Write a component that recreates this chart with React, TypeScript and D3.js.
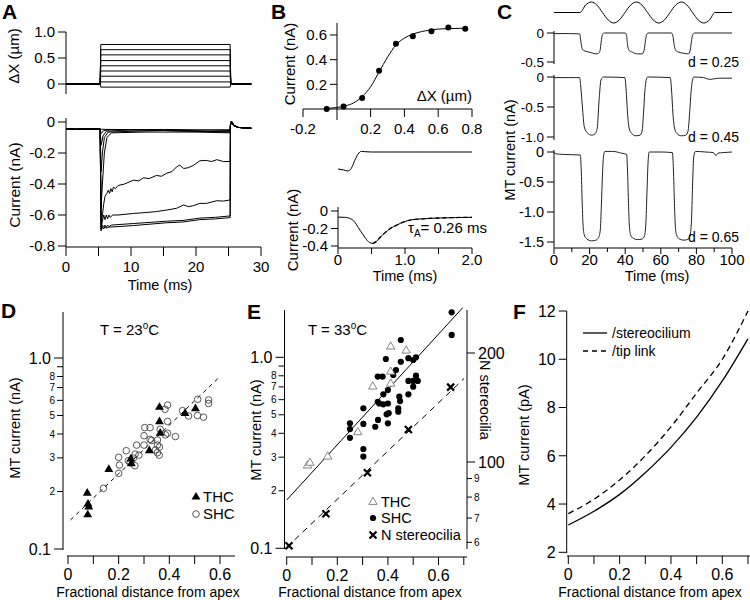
import React from 'react';
import * as d3 from 'd3';

const FONT = "'Liberation Sans', Arial, Helvetica, sans-serif";
type P = [number, number];

// ---------------- Panel A ----------------
const aStepLevels = [-0.06, 0.04, 0.15, 0.25, 0.35, 0.45, 0.56, 0.66, 0.76];
const aStepTimes = [0, 5.25, 5.35, 25.25, 25.35, 28.5];
const aTopYTicks = [0, 0.5, 1.0];
const aTopYLabels = ['0', '0.5', '1.0'];
const aYTicks = [0, -0.2, -0.4, -0.6, -0.8];
const aYLabels = ['0', '-0.2', '-0.4', '-0.6', '-0.8'];
const aXTicks = [0, 10, 20, 30];
const aXLabels = ['0', '10', '20', '30'];
const aXMinor = [5, 15, 25];
const aPre: P[] = [[0, -0.043], [1.5, -0.047], [3, -0.044], [4.5, -0.046], [5.25, -0.045]];
const aPost: P[] = [[25.3, -0.02], [25.45, 0.005], [25.8, -0.022], [26.5, -0.035], [27.5, -0.038], [28.5, -0.04]];
const aTr1: P[] = [[5.4, -0.047], [10, -0.05], [15, -0.048], [20, -0.05], [25.25, -0.05]];
const aTr2: P[] = [[5.4, -0.075], [5.8, -0.055], [7, -0.05], [12, -0.052], [18, -0.055], [22, -0.058], [25.25, -0.055]];
const aTr3: P[] = [[5.4, -0.15], [5.7, -0.09], [6.2, -0.06], [10, -0.05], [15, -0.055], [20, -0.06], [25.25, -0.06]];
const aTr4: P[] = [[5.4, -0.32], [5.6, -0.2], [5.9, -0.1], [6.5, -0.065], [10, -0.06], [15, -0.055], [20, -0.06], [25.25, -0.065]];
const aTr5: P[] = [[5.4, -0.55], [5.6, -0.4], [5.9, -0.2], [6.3, -0.1], [7, -0.07], [12, -0.065], [20, -0.065], [25.25, -0.07]];
const aTr6: P[] = [[5.4, -0.66], [5.6, -0.6], [5.8, -0.53], [6.0, -0.48], [6.3, -0.46], [6.5, -0.44], [6.7, -0.46], [6.9, -0.43], [7.1, -0.45], [7.3, -0.42], [7.6, -0.43], [8, -0.41], [9, -0.4], [10.4, -0.375], [11.2, -0.38], [11.9, -0.36], [12.8, -0.365], [13.9, -0.345], [14.7, -0.35], [15.5, -0.33], [16.3, -0.32], [17, -0.29], [17.5, -0.278], [18.1, -0.3], [18.8, -0.295], [19.6, -0.28], [20.6, -0.25], [21.6, -0.248], [22.4, -0.255], [23.2, -0.243], [24.2, -0.255], [25.25, -0.255]];
const aTr7: P[] = [[5.4, -0.69], [5.6, -0.64], [5.8, -0.6], [6.0, -0.63], [6.2, -0.6], [6.4, -0.625], [6.6, -0.6], [6.8, -0.615], [7.2, -0.6], [8, -0.6], [10.4, -0.59], [12, -0.585], [13.9, -0.578], [15.5, -0.568], [17, -0.557], [18.1, -0.535], [18.8, -0.546], [19.6, -0.54], [20.6, -0.525], [21.6, -0.525], [23.2, -0.508], [24.2, -0.51], [25.25, -0.503]];
const aTr8: P[] = [[5.4, -0.7], [5.6, -0.665], [5.8, -0.68], [6, -0.665], [6.2, -0.68], [6.4, -0.665], [6.6, -0.675], [7, -0.665], [10.4, -0.655], [15.5, -0.64], [18, -0.635], [20.6, -0.62], [23, -0.615], [25.25, -0.606]];
const aTr9: P[] = [[5.4, -0.7], [5.6, -0.68], [5.8, -0.69], [6, -0.675], [6.2, -0.685], [6.6, -0.678], [8, -0.675], [10.4, -0.668], [15.5, -0.65], [18, -0.645], [20.6, -0.63], [23, -0.625], [25.25, -0.617]];
const aTraces = [aTr1, aTr2, aTr3, aTr4, aTr5, aTr6, aTr7, aTr8, aTr9];

// ---------------- Panel B ----------------
const bPointsX = [-0.06, 0.04, 0.15, 0.25, 0.35, 0.45, 0.56, 0.66, 0.76];
const bPointsY = [0.0, 0.02, 0.09, 0.31, 0.53, 0.59, 0.63, 0.66, 0.65];
const bFitX = [-0.06, 0, 0.05, 0.1, 0.15, 0.2, 0.25, 0.3, 0.35, 0.4, 0.45, 0.5, 0.55, 0.6, 0.7, 0.76];
const bFitY = [0.005, 0.012, 0.025, 0.05, 0.1, 0.18, 0.3, 0.42, 0.52, 0.575, 0.607, 0.627, 0.64, 0.648, 0.653, 0.655];
const bTopXTicks = [-0.2, 0.2, 0.4, 0.6, 0.8];
const bTopXLabels = ['-0.2', '0.2', '0.4', '0.6', '0.8'];
const bTopYTicks = [0.2, 0.4, 0.6];
const bTopYLabels = ['0.2', '0.4', '0.6'];
const bStimT = [0, 0.08, 0.15, 0.2, 0.25, 0.3, 0.35, 0.4, 0.5, 2.0];
const bStimV = [0, -0.05, -0.12, 0.05, 0.5, 0.88, 1.04, 1.02, 1.0, 1.0];
const bCurT = [0, 0.1, 0.15, 0.23, 0.33, 0.41, 0.47, 0.52, 0.57, 0.63, 0.7, 0.78, 0.88, 0.98, 1.1, 1.25, 1.5, 1.75, 2.0];
const bCurV = [-0.07, -0.072, -0.078, -0.11, -0.22, -0.31, -0.36, -0.37, -0.35, -0.3, -0.25, -0.2, -0.16, -0.125, -0.1, -0.09, -0.08, -0.075, -0.072];
const bBotXTicks = [0, 1, 2];
const bBotXLabels = ['0', '1.0', '2.0'];
const bBotXMinor = [0.5, 1.5];
const bBotYTicks = [0, -0.2, -0.4];
const bBotYLabels = ['0', '-0.2', '-0.4'];

// ---------------- Panel C ----------------
const cStimT = [0, 14.6, 17.76, 20.93, 24.09, 27.25, 30.41, 33.58, 36.74, 39.9, 43.06, 46.23, 49.39, 52.55, 55.71, 58.88, 62.04, 65.2, 68.36, 71.53, 74.69, 77.85, 81.01, 84.18, 87.34, 90.5, 100];
const cStimV = [0, 0, 0.71, 1, 0.71, 0, -0.71, -1, -0.71, 0, 0.71, 1, 0.71, 0, -0.71, -1, -0.71, 0, 0.71, 1, 0.71, 0, -0.71, -1, -0.71, 0, 0];
const cTr1: P[] = [[0, -0.01], [8, -0.01], [14.4, -0.015], [15, -0.12], [15.7, -0.26], [16.6, -0.3], [18.5, -0.32], [21, -0.34], [23.5, -0.36], [25, -0.35], [25.9, -0.3], [26.5, -0.15], [27.2, -0.03], [28.2, 0], [40, 0], [40.7, -0.03], [41.3, -0.2], [42.2, -0.3], [44, -0.33], [47, -0.36], [49.5, -0.36], [50.6, -0.3], [51.3, -0.15], [52, -0.03], [53, 0], [66, 0], [66.8, -0.05], [67.5, -0.2], [68.4, -0.3], [70, -0.33], [73, -0.35], [75.5, -0.36], [76.5, -0.3], [77.2, -0.15], [77.9, -0.03], [79, 0], [100, 0]];
const cTr2: P[] = [[0, -0.01], [8, -0.01], [14.4, -0.01], [15, -0.15], [16.1, -0.55], [17, -0.83], [18.7, -0.93], [21.2, -0.97], [23, -0.95], [24.3, -0.85], [25.3, -0.4], [26.4, -0.05], [27.7, 0], [39.8, -0.01], [40.5, -0.2], [41.3, -0.6], [42.2, -0.85], [43.6, -0.94], [46, -0.98], [48.3, -0.97], [49.5, -0.9], [50.3, -0.6], [51, -0.25], [51.8, -0.05], [52.6, 0], [65.3, -0.01], [66, -0.2], [66.8, -0.6], [67.7, -0.85], [69, -0.94], [71.5, -0.98], [74, -0.97], [75.3, -0.9], [76.2, -0.6], [77, -0.25], [77.8, -0.05], [78.6, 0], [84, -0.01], [86, -0.03], [88, -0.04], [90, -0.03], [93, -0.02], [100, -0.02]];
const cTr3: P[] = [[0, 0], [1, -0.03], [5, -0.04], [10, -0.045], [14.8, -0.05], [15.3, -0.3], [15.8, -0.8], [16.3, -1.2], [17, -1.38], [18.5, -1.45], [21, -1.48], [23.5, -1.47], [25, -1.43], [26, -1.3], [26.6, -0.9], [27.2, -0.4], [27.8, -0.08], [28.6, 0.01], [33, 0.01], [38, -0.02], [40.8, -0.04], [41.3, -0.3], [41.8, -0.8], [42.3, -1.2], [43, -1.38], [44.5, -1.44], [47, -1.46], [49.5, -1.45], [50.8, -1.4], [51.6, -1.2], [52.2, -0.7], [52.8, -0.2], [53.5, 0], [60, 0], [66.5, -0.01], [67.1, -0.3], [67.6, -0.8], [68.1, -1.2], [68.8, -1.38], [70.5, -1.45], [73, -1.47], [75.5, -1.45], [76.5, -1.38], [77.3, -1.1], [77.9, -0.5], [78.5, -0.08], [79.5, 0.01], [85, 0], [89.5, -0.01], [91, -0.06], [92, -0.02], [95, -0.01], [100, 0]];
const cXTicks = [0, 20, 40, 60, 80, 100];
const cXLabels = ['0', '20', '40', '60', '80', '100'];
const cXMinor = [10, 30, 50, 70, 90];
const cY1Ticks = [0, -0.5];
const cY1Labels = ['0', '-0.5'];
const cY2Ticks = [0, -0.5, -1.0];
const cY2Labels = ['0', '-0.5', '-1.0'];
const cY3Ticks = [0, -0.5, -1.0, -1.5];
const cY3Labels = ['0', '-0.5', '-1.0', '-1.5'];
const cLabels = ['d = 0.25', 'd = 0.45', 'd = 0.65'];

// ---------------- Panel D ----------------
const dThcX = [0.076, 0.079, 0.082, 0.078, 0.161, 0.248, 0.25, 0.321, 0.361, 0.361, 0.364, 0.462, 0.503];
const dThcY = [0.196, 0.172, 0.166, 0.151, 0.261, 0.296, 0.28, 0.327, 0.552, 0.464, 0.404, 0.513, 0.543];
const dShcX = [0.14, 0.2, 0.203, 0.2, 0.23, 0.238, 0.245, 0.264, 0.265, 0.271, 0.258, 0.3, 0.303, 0.324, 0.3, 0.324, 0.353, 0.353, 0.361, 0.353, 0.364, 0.385, 0.393, 0.424, 0.393, 0.383, 0.393, 0.452, 0.476, 0.512, 0.511, 0.535, 0.555, 0.555, 0.28, 0.33, 0.345, 0.36];
const dShcY = [0.208, 0.249, 0.275, 0.302, 0.327, 0.29, 0.283, 0.273, 0.314, 0.35, 0.299, 0.35, 0.432, 0.432, 0.392, 0.375, 0.372, 0.35, 0.342, 0.319, 0.423, 0.396, 0.404, 0.388, 0.466, 0.539, 0.567, 0.53, 0.497, 0.608, 0.5, 0.49, 0.603, 0.578, 0.31, 0.37, 0.33, 0.31];
const dFitX = [0.01, 0.6];
const dFitY = [0.142, 0.8];
const logMajor = [0.1, 1];
const logMajorLabels = ['0.1', '1.0'];
const logMinor = [0.2, 0.3, 0.4, 0.5, 0.6, 0.7, 0.8, 0.9];
const logMinorLabels = ['2', '3', '4', '5', '6', '7', '8', ''];
const fracXTicks = [0, 0.2, 0.4, 0.6];
const fracXLabels = ['0', '0.2', '0.4', '0.6'];

// ---------------- Panel E ----------------
const eThcX = [0.082, 0.092, 0.162, 0.281, 0.34, 0.411, 0.411, 0.411, 0.472];
const eThcY = [0.271, 0.28, 0.302, 0.405, 0.702, 1.137, 0.84, 0.727, 1.083];
const eShcX = [0.25, 0.25, 0.25, 0.303, 0.303, 0.303, 0.303, 0.35, 0.361, 0.36, 0.366, 0.36, 0.379, 0.382, 0.382, 0.392, 0.4, 0.4, 0.395, 0.403, 0.4, 0.421, 0.432, 0.445, 0.448, 0.441, 0.441, 0.451, 0.451, 0.481, 0.481, 0.481, 0.5, 0.511, 0.5, 0.511, 0.518, 0.5, 0.652, 0.652];
const eShcY = [0.451, 0.421, 0.379, 0.541, 0.448, 0.331, 0.302, 0.433, 0.47, 0.585, 0.573, 0.793, 0.793, 0.64, 0.567, 0.98, 0.674, 0.573, 0.503, 0.51, 0.451, 0.808, 0.858, 0.623, 0.59, 0.541, 0.519, 1.232, 0.948, 0.989, 0.752, 0.64, 0.968, 1.0, 0.752, 0.801, 0.752, 0.702, 1.72, 1.309];
const eNX = [0.009, 0.155, 0.319, 0.481, 0.648];
const eNY = [58.7, 72, 93.4, 123, 161];
const eFitX = [0, 0.696];
const eFitY = [0.179, 1.82];
const eNFitX = [0, 0.701];
const eNFitY = [58.1, 170];
const nMajor = [100, 200];
const nMajorLabels = ['100', '200'];
const nMinor = [60, 70, 80, 90];
const nMinorLabels = ['6', '7', '8', '9'];
const fracMinor7 = [0.1, 0.3, 0.5, 0.7];
const fracMinor5 = [0.1, 0.3, 0.5];

// ---------------- Panel F ----------------
const fX = [0, 0.1, 0.2, 0.3, 0.4, 0.5, 0.6, 0.7];
const fStereo = [3.13, 3.7, 4.4, 5.3, 6.35, 7.6, 9.1, 10.85];
const fTip = [3.6, 4.2, 5.0, 6.0, 7.2, 8.6, 10.0, 12.0];
const fYTicks = [2, 4, 6, 8, 10, 12];
const fYLabels = ['2', '4', '6', '8', '10', '12'];

// ---------------- helpers ----------------
function YAxis({ scale, x, y0, y1, major, labels = [], minor = [], minorLabels = [], side = 'left', mlen = 8, nlen = 5, fs = 15, mfs = 10 }: any) {
  const dir = side === 'left' ? -1 : 1;
  const anchor = side === 'left' ? 'end' : 'start';
  return (
    <g>
      <line x1={x} x2={x} y1={y0} y2={y1} stroke="#000" />
      {major.map((v: number, i: number) => (
        <g key={'M' + i}>
          <line x1={x} x2={x + dir * mlen} y1={scale(v)} y2={scale(v)} stroke="#000" />
          {labels[i] ? <text x={x + dir * (mlen + 3)} y={scale(v)} dy="0.36em" textAnchor={anchor} fontSize={fs}>{labels[i]}</text> : null}
        </g>
      ))}
      {minor.map((v: number, i: number) => (
        <g key={'m' + i}>
          <line x1={x} x2={x + dir * nlen} y1={scale(v)} y2={scale(v)} stroke="#000" />
          {minorLabels[i] ? <text x={x + dir * (nlen + 2)} y={scale(v)} dy="0.36em" textAnchor={anchor} fontSize={mfs}>{minorLabels[i]}</text> : null}
        </g>
      ))}
    </g>
  );
}

function XAxis({ scale, y, x0, x1, major, labels = [], minor = [], mlen = 8, nlen = 5, fs = 15, lab = 16 }: any) {
  return (
    <g>
      <line x1={x0} x2={x1} y1={y} y2={y} stroke="#000" />
      {major.map((v: number, i: number) => (
        <g key={'M' + i}>
          <line x1={scale(v)} x2={scale(v)} y1={y} y2={y + mlen} stroke="#000" />
          {labels[i] ? <text x={scale(v)} y={y + lab} dy="0.36em" textAnchor="middle" fontSize={fs}>{labels[i]}</text> : null}
        </g>
      ))}
      {minor.map((v: number, i: number) => (
        <line key={'m' + i} x1={scale(v)} x2={scale(v)} y1={y} y2={y + nlen} stroke="#000" />
      ))}
    </g>
  );
}

function VLabel({ x, y, text, fs = 14.5, rot = -90 }: any) {
  return <text transform={`translate(${x},${y}) rotate(${rot})`} textAnchor="middle" dy="0.36em" fontSize={fs}>{text}</text>;
}

function zip(a: number[], b: number[]): P[] {
  return a.map((v, i) => [v, b[i]] as P);
}

export default function App() {
  // Panel A
  const xA = d3.scaleLinear().domain([0, 30]).range([66, 261]);
  const yAt = d3.scaleLinear().domain([0, 1]).range([84, 32]);
  const yA = d3.scaleLinear().domain([0, -0.8]).range([122, 246]);
  const lineAt = d3.line<P>().x(d => xA(d[0])).y(d => yAt(d[1]));
  const lineA = d3.line<P>().x(d => xA(d[0])).y(d => yA(d[1]));

  // Panel B
  const xB = d3.scaleLinear().domain([-0.2, 0.8]).range([303, 472]);
  const yB = d3.scaleLinear().domain([0, 0.6]).range([109, 35]);
  const lineB = d3.line<P>().x(d => xB(d[0])).y(d => yB(d[1])).curve(d3.curveMonotoneX);
  const xBb = d3.scaleLinear().domain([0, 2]).range([338, 472]);
  const yBb = d3.scaleLinear().domain([0, -0.4]).range([211, 246]);
  const yBs = d3.scaleLinear().domain([0, 1]).range([169, 152]);
  const lineBs = d3.line<P>().x(d => xBb(d[0])).y(d => yBs(d[1])).curve(d3.curveMonotoneX);
  const lineBb = d3.line<P>().x(d => xBb(d[0])).y(d => yBb(d[1])).curve(d3.curveMonotoneX);
  const bCur = zip(bCurT, bCurV);

  // Panel C
  const xC = d3.scaleLinear().domain([0, 100]).range([554, 732]);
  const yCs = d3.scaleLinear().domain([-1, 1]).range([23, 2]);
  const yC1 = d3.scaleLinear().domain([0, -0.5]).range([33, 62]);
  const yC2 = d3.scaleLinear().domain([0, -1]).range([77, 137]);
  const yC3 = d3.scaleLinear().domain([0, -1.5]).range([152, 242]);
  const lineC = (ys: any) => d3.line<P>().x(d => xC(d[0])).y(d => ys(d[1])).curve(d3.curveMonotoneX);

  // Panel D
  const xD = d3.scaleLinear().domain([0, 0.6]).range([68, 220]);
  const yD = d3.scaleLog().domain([0.1, 1]).range([549, 358]);
  const lineD = d3.line<P>().x(d => xD(d[0])).y(d => yD(d[1]));
  const tri = d3.symbol().type(d3.symbolTriangle).size(34)() as string;

  // Panel E
  const xE = d3.scaleLinear().domain([0, 0.6]).range([286.7, 438.5]);
  const yE = d3.scaleLog().domain([0.1, 1]).range([548.3, 357.3]);
  const yN = d3.scaleLog().domain([100, 200]).range([462, 353]);
  const lineE = d3.line<P>().x(d => xE(d[0])).y(d => yE(d[1]));
  const lineN = d3.line<P>().x(d => xE(d[0])).y(d => yN(d[1]));
  const triE = d3.symbol().type(d3.symbolTriangle).size(30)() as string;

  // Panel F
  const xF = d3.scaleLinear().domain([0, 0.6]).range([568.3, 722.3]);
  const yF = d3.scaleLinear().domain([2, 12]).range([552.3, 311]);
  const lineF = d3.line<P>().x(d => xF(d[0])).y(d => yF(d[1])).curve(d3.curveMonotoneX);

  const bold = { fontWeight: 'bold' as const, fontSize: 21 };

  return (
    <svg width={750} height={600} style={{ position: 'absolute', left: 0, top: 0, background: '#fff' }} fontFamily={FONT}>
      <rect x={0} y={0} width={750} height={600} fill="#fff" />
      {/* Letters */}
      <text x={2} y={19} {...bold}>A</text>
      <text x={271} y={19} {...bold}>B</text>
      <text x={497} y={19} {...bold}>C</text>
      <text x={1} y={318} {...bold}>D</text>
      <text x={247} y={319} {...bold}>E</text>
      <text x={513} y={319} {...bold}>F</text>

      {/* ===== Panel A ===== */}
      <YAxis scale={yAt} x={66} y0={32} y1={94} major={aTopYTicks} labels={aTopYLabels} />
      {aStepLevels.map((L, i) => (
        <path key={'st' + i} d={lineAt(aStepTimes.map((t, k) => [t, k === 2 || k === 3 ? L : 0] as P)) as string} fill="none" stroke="#000" strokeWidth={1} />
      ))}
      <VLabel x={14} y={56} text="ΔX (µm)" fs={15} />
      <YAxis scale={yA} x={66} y0={118} y1={247} major={aYTicks} labels={aYLabels} />
      <XAxis scale={xA} y={247} x0={66} x1={261} major={aXTicks} labels={aXLabels} minor={aXMinor} mlen={9} nlen={9} lab={20} />
      {aTraces.map((tr, i) => (
        <path key={'at' + i} d={lineA([...aPre, ...tr, ...aPost]) as string} fill="none" stroke="#000" strokeWidth={1} />
      ))}
      <VLabel x={14} y={185} text="Current (nA)" fs={15.5} />
      <text x={160} y={290} textAnchor="middle" fontSize={14.5}>Time (ms)</text>

      {/* ===== Panel B ===== */}
      <line x1={337} x2={337} y1={23} y2={120} stroke="#000" />
      <YAxis scale={yB} x={337} y0={109} y1={109} major={bTopYTicks} labels={bTopYLabels} mlen={7} />
      <XAxis scale={xB} y={109} x0={303} x1={472} major={bTopXTicks} labels={bTopXLabels} mlen={8} lab={20} />
      <path d={lineB(zip(bFitX, bFitY)) as string} fill="none" stroke="#000" />
      {bPointsX.map((x, i) => <circle key={'bp' + i} cx={xB(x)} cy={yB(bPointsY[i])} r={3} fill="#000" />)}
      <text x={472} y={96} dy="0.36em" textAnchor="end" fontSize={15}>ΔX (µm)</text>
      <VLabel x={290} y={64} text="Current (nA)" fs={15} />

      <path d={lineBs(zip(bStimT, bStimV)) as string} fill="none" stroke="#000" />
      <YAxis scale={yBb} x={338} y0={207} y1={248} major={bBotYTicks} labels={bBotYLabels} mlen={7} />
      <XAxis scale={xBb} y={248} x0={338} x1={472} major={bBotXTicks} labels={bBotXLabels} minor={bBotXMinor} mlen={6} nlen={6} lab={12} />
      <path d={lineBb(bCur) as string} fill="none" stroke="#000" />
      <path d={lineBb(bCur.slice(7)) as string} fill="none" stroke="#000" strokeDasharray="4,3" strokeWidth={1.3} />
      <text x={408} y={228} dy="0.36em" fontSize={15}>τ<tspan fontSize={10} dy={4}>A</tspan><tspan dy={-4}>= 0.26 ms</tspan></text>
      <VLabel x={293} y={230} text="Current (nA)" fs={15} />
      <text x={405} y={281} textAnchor="middle" fontSize={14.5}>Time (ms)</text>

      {/* ===== Panel C ===== */}
      <path d={lineC(yCs)(zip(cStimT, cStimV)) as string} fill="none" stroke="#000" />
      <YAxis scale={yC1} x={554} y0={31} y1={64} major={cY1Ticks} labels={cY1Labels} mlen={7} fs={13.5} />
      <YAxis scale={yC2} x={554} y0={75} y1={140} major={cY2Ticks} labels={cY2Labels} mlen={7} fs={13.5} />
      <YAxis scale={yC3} x={554} y0={150} y1={248} major={cY3Ticks} labels={cY3Labels} mlen={7} fs={14.5} />
      <XAxis scale={xC} y={248} x0={554} x1={732} major={cXTicks} labels={cXLabels} minor={cXMinor} mlen={6} nlen={4} lab={12} />
      <path d={lineC(yC1)(cTr1) as string} fill="none" stroke="#222" />
      <path d={lineC(yC2)(cTr2) as string} fill="none" stroke="#222" />
      <path d={lineC(yC3)(cTr3) as string} fill="none" stroke="#222" />
      <text x={739} y={62} dy="0.36em" textAnchor="end" fontSize={14}>{cLabels[0]}</text>
      <text x={739} y={137} dy="0.36em" textAnchor="end" fontSize={14}>{cLabels[1]}</text>
      <text x={739} y={237} dy="0.36em" textAnchor="end" fontSize={14}>{cLabels[2]}</text>
      <VLabel x={510} y={150} text="MT current (nA)" />
      <text x={657} y={281} textAnchor="middle" fontSize={14.5}>Time (ms)</text>

      {/* ===== Panel D ===== */}
      <YAxis scale={yD} x={63} y0={312} y1={550} major={logMajor} labels={logMajorLabels} minor={logMinor} minorLabels={logMinorLabels} mlen={9} nlen={6} fs={16} />
      <XAxis scale={xD} y={556} x0={67} x1={235} major={fracXTicks} labels={fracXLabels} minor={fracMinor5} mlen={8} nlen={8} fs={16} lab={18} />
      <path d={lineD(zip(dFitX, dFitY)) as string} fill="none" stroke="#000" strokeDasharray="4,4" />
      {dShcX.map((x, i) => <circle key={'ds' + i} cx={xD(x)} cy={yD(dShcY[i])} r={3.3} fill="none" stroke="#444" strokeWidth={0.9} />)}
      {dThcX.map((x, i) => <path key={'dt' + i} d={tri} transform={`translate(${xD(x)},${yD(dThcY[i])})`} fill="#000" />)}
      <path d={tri} transform="translate(196,497)" fill="#000" />
      <text x={203} y={497} dy="0.36em" fontSize={15}>THC</text>
      <circle cx={196} cy={514} r={3.3} fill="none" stroke="#444" strokeWidth={0.9} />
      <text x={203} y={514} dy="0.36em" fontSize={15}>SHC</text>
      <text x={100} y={330} dy="0.36em" fontSize={15}>T = 23<tspan fontSize={10} dy={-6}>o</tspan><tspan dy={6}>C</tspan></text>
      <VLabel x={15} y={428} text="MT current (nA)" />
      <text x={148} y={597} textAnchor="middle" fontSize={14}>Fractional distance from apex</text>

      {/* ===== Panel E ===== */}
      <YAxis scale={yE} x={284.5} y0={310} y1={549} major={logMajor} labels={logMajorLabels} minor={logMinor} minorLabels={logMinorLabels} mlen={9} nlen={6} fs={16} />
      <YAxis scale={yN} x={467} y0={310} y1={549} major={nMajor} labels={nMajorLabels} minor={nMinor} minorLabels={nMinorLabels} side="right" mlen={8} nlen={5} fs={16} />
      <XAxis scale={xE} y={557} x0={286} x1={467} major={fracXTicks} labels={fracXLabels} minor={fracMinor7} mlen={8} nlen={8} fs={16} lab={18} />
      <path d={lineE(zip(eFitX, eFitY)) as string} fill="none" stroke="#000" />
      <path d={lineN(zip(eNFitX, eNFitY)) as string} fill="none" stroke="#000" strokeDasharray="6,5" />
      {eShcX.map((x, i) => <circle key={'es' + i} cx={xE(x)} cy={yE(eShcY[i])} r={3.1} fill="#000" />)}
      {eThcX.map((x, i) => <path key={'et' + i} d={triE} transform={`translate(${xE(x)},${yE(eThcY[i])})`} fill="#fff" stroke="#777" strokeWidth={0.9} />)}
      {eNX.map((x, i) => {
        const cx = xE(x), cy = yN(eNY[i]);
        return <path key={'en' + i} d={`M${cx - 3.5},${cy - 3.5}L${cx + 3.5},${cy + 3.5}M${cx - 3.5},${cy + 3.5}L${cx + 3.5},${cy - 3.5}`} stroke="#000" strokeWidth={2.2} />;
      })}
      <path d={triE} transform="translate(373,502)" fill="#fff" stroke="#777" strokeWidth={0.9} />
      <text x={381} y={502} dy="0.36em" fontSize={14.5}>THC</text>
      <circle cx={373} cy={518} r={3.1} fill="#000" />
      <text x={381} y={518} dy="0.36em" fontSize={14.5}>SHC</text>
      <path d="M369.5,531.5L376.5,538.5M369.5,538.5L376.5,531.5" stroke="#000" strokeWidth={2.2} />
      <text x={381} y={535} dy="0.36em" fontSize={14.5}>N stereocilia</text>
      <text x={308} y={330} dy="0.36em" fontSize={15}>T = 33<tspan fontSize={10} dy={-6}>o</tspan><tspan dy={6}>C</tspan></text>
      <VLabel x={256} y={430} text="MT current (nA)" />
      <VLabel x={485} y={400} text="N stereocilia" rot={90} />
      <text x={370} y={597} textAnchor="middle" fontSize={14}>Fractional distance from apex</text>

      {/* ===== Panel F ===== */}
      <YAxis scale={yF} x={566.7} y0={311} y1={553} major={fYTicks} labels={fYLabels} mlen={8} fs={16} />
      <XAxis scale={xF} y={556} x0={567} x1={750} major={fracXTicks} labels={fracXLabels} minor={fracMinor7} mlen={8} nlen={8} fs={16} lab={18} />
      <path d={lineF(zip(fX, fStereo)) as string} fill="none" stroke="#000" strokeWidth={1.3} />
      <path d={lineF(zip(fX, fTip)) as string} fill="none" stroke="#000" strokeWidth={1.3} strokeDasharray="6,4" />
      <line x1={583} x2={607} y1={333} y2={333} stroke="#000" strokeWidth={1.3} />
      <text x={612} y={333} dy="0.36em" fontSize={14}>/stereocilium</text>
      <line x1={583} x2={607} y1={351} y2={351} stroke="#000" strokeWidth={1.3} strokeDasharray="5,4" />
      <text x={612} y={351} dy="0.36em" fontSize={14}>/tip link</text>
      <VLabel x={524} y={435} text="MT current (pA)" />
      <text x={650} y={597} textAnchor="middle" fontSize={14}>Fractional distance from apex</text>
    </svg>
  );
}
